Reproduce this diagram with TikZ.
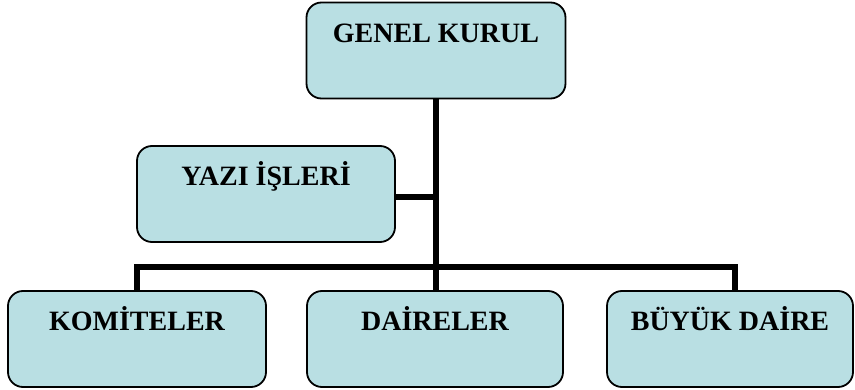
\documentclass[tikz,border=0pt]{standalone}
\usepackage{fontspec}
\setmainfont{Liberation Serif}
\definecolor{boxfill}{HTML}{B9DFE3}
\begin{document}
\begin{tikzpicture}[x={(1pt,0)},y={(0,-1pt)},
  orgbox/.style={draw=black,line width=1.8pt,fill=boxfill,rounded corners=15pt,
    inner sep=0pt,text height=40pt,text depth=56pt,
    font=\fontsize{28}{30}\selectfont\bfseries},
  link/.style={line width=6pt,draw=black}]
\useasboundingbox (0,0) rectangle (855,390);
\node[orgbox,minimum width=259pt] (genel) at (436,50.5) {GENEL KURUL};
\node[orgbox,minimum width=258pt] (yazi) at (266,194) {YAZI İŞLERİ};
\node[orgbox,minimum width=258pt] (komite) at (137,339) {KOMİTELER};
\node[orgbox,minimum width=256pt] (daire) at (435,339) {DAİRELER};
\node[orgbox,minimum width=246pt] (buyuk) at (730,339) {BÜYÜK DAİRE};
\coordinate (busL) at (137,267);
\coordinate (busM) at (436,267);
\coordinate (busR) at (735,267);
\coordinate (tj) at (436,197);
\draw[link] (genel.south -| busM) -- (busM);
\draw[link] (yazi.east |- tj) -- (tj);
\draw[link,line cap=rect] (busL) -- (busR);
\draw[link] (busL) -- (busL |- komite.north);
\draw[link] (busM) -- (busM |- daire.north);
\draw[link] (busR) -- (busR |- buyuk.north);
\end{tikzpicture}
\end{document}
